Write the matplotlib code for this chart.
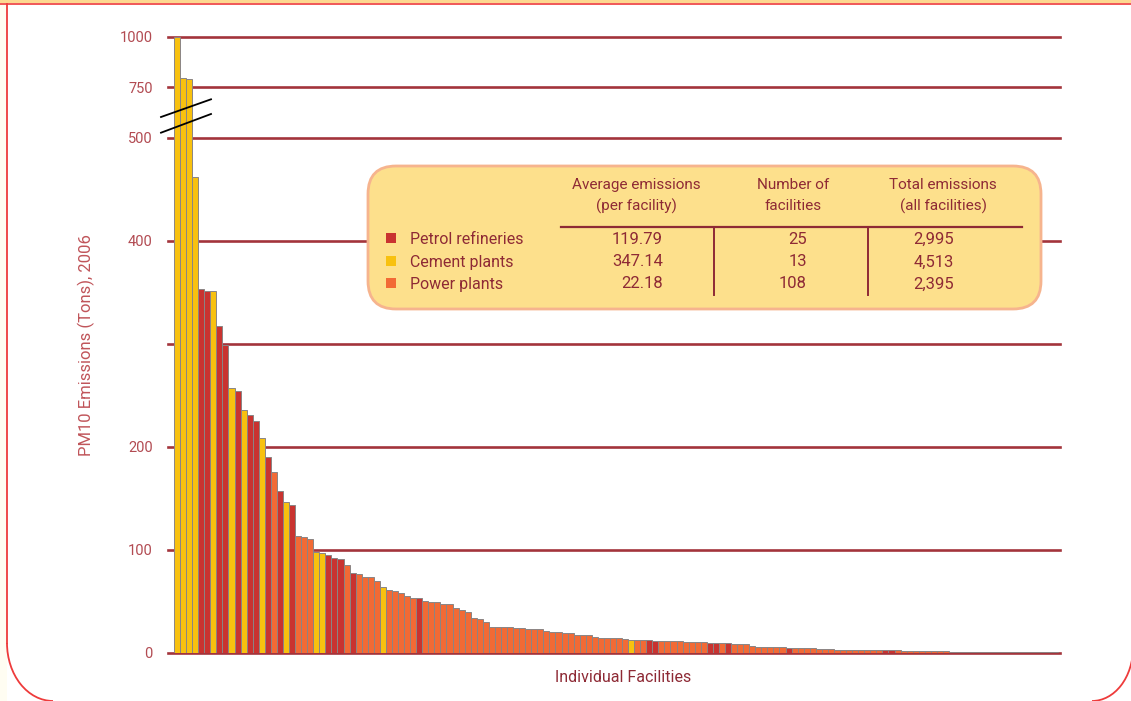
import numpy as np
import matplotlib
matplotlib.use("Agg")
import matplotlib.pyplot as plt
from matplotlib.patches import FancyBboxPatch, Rectangle, Arc
from matplotlib.lines import Line2D

plt.rcParams['font.family'] = ['Roboto', 'DejaVu Sans']

# PM10 emissions per facility (tons, 2006), sorted from largest to smallest
emissions = [
    1000, 795, 792, 462, 353, 351, 351, 317, 299, 257,
    254, 236, 231, 225, 209, 190, 176, 157, 147, 144,
    114, 113, 111, 98, 97, 95, 92, 91, 85, 78,
    77, 74, 74, 70, 64, 61, 60, 58, 55, 53.5,
    53.5, 50.5, 49.5, 49.5, 48, 48, 44, 41.7, 39.8, 33.7,
    32.7, 30, 25.6, 25, 25, 25, 24, 24, 23, 23,
    23, 21.7, 20.7, 20.7, 19.4, 19.4, 17.5, 17.5, 17.5, 15.2,
    14.2, 14.2, 14.2, 14.2, 13.5, 13, 13, 12.3, 12.3, 11.4,
    11.4, 11.4, 11.4, 11.4, 10.4, 10.4, 10.4, 10.4, 9.4, 9.4,
    9.4, 9.4, 8.4, 8.4, 8.4, 7.1, 6.1, 6.1, 6.1, 6.1,
    6.1, 5.1, 5.1, 5.1, 5.1, 5.1, 4, 4, 4, 3,
    3, 3, 3, 3, 3, 3, 3, 3, 3, 3,
    2, 2, 2, 2, 2, 2, 2, 2, 1, 1,
    1, 1, 1, 1, 1, 1, 1, 1, 1, 1,
    1, 1, 1, 1, 1, 0.8,
]

# facility type of each bar: R = petrol refinery, Y = cement plant, O = power plant
facility_type = list(
    "YYYYRRYRRY"
    "RYRRYRORYR"
    "OOOYYRRROR"
    "OOOOYOOOOO"
    "ROOOOOOOOO"
    "OOOOOOOOOO"
    "OOOOOOOOOO"
    "OOOOOYOORR"
    "OOOOOOOORR"
    "OROOOOOOOO"
    "OROOOOOOOO"
    "OOOOOOORRO"
    "OOOOOOOOOO"
    "OOOOOOOOOO"
    "OOOOOR"
)

type_colors = {"R": "#c93330", "Y": "#f8c10f", "O": "#f26a35"}

# summary table
table_headers = [("Average emissions", "(per facility)"),
                 ("Number of", "facilities"),
                 ("Total emissions", "(all facilities)")]
table_rows = ["Petrol refineries", "Cement plants", "Power plants"]
table_keys = ["R", "Y", "O"]
avg_emissions = ["119.79", "347.14", "22.18"]
n_facilities = ["25", "13", "108"]
total_emissions = ["2,995", "4,513", "2,395"]

y_ticks = [0, 100, 200, 300, 400, 500, 750, 1000]
y_ticklabels = ["0", "100", "200", "", "400", "500", "750", "1000"]

GRID = "#a3343b"
TEXT = "#8e2a35"
TICKTXT = "#b24b52"

# broken axis: linear up to 500, compressed above
K = 0.196


def fwd(v):
    v = np.asarray(v, dtype=float)
    return np.where(v <= 500, v, 500 + (v - 500) * K)


def inv(u):
    u = np.asarray(u, dtype=float)
    return np.where(u <= 500, u, 500 + (u - 500) / K)


W, H = 1131, 701
fig = plt.figure(figsize=(W / 100, H / 100), dpi=100)
fig.patch.set_facecolor("white")

ax_left, ax_right, ax_top, ax_base = 168, 1060, 37, 653
ax = fig.add_axes([ax_left / W, (H - ax_base) / H,
                   (ax_right - ax_left) / W, (ax_base - ax_top) / H])
ax.set_yscale("function", functions=(fwd, inv))
ax.set_ylim(0, 1000)

n = len(emissions)
xs = np.arange(n)
bar_px = (1058 - 174) / n
ax.set_xlim(-0.5 - (174 - ax_left) / bar_px, n - 0.5 + (ax_right - 1058) / bar_px)

for yv in y_ticks:
    ax.axhline(yv, color=GRID, lw=1.9, zorder=0.5, clip_on=False)

ax.bar(xs, emissions, width=1.0, color=[type_colors[t] for t in facility_type],
       edgecolor="#8a8585", linewidth=0.7, zorder=2)

for s in ax.spines.values():
    s.set_visible(False)
ax.set_xticks([])
ax.set_yticks(y_ticks)
ax.set_yticklabels(y_ticklabels)
ax.tick_params(axis="y", length=0, pad=11, labelsize=10.5, labelcolor=TICKTXT)
ax.set_facecolor("none")

ax.set_ylabel("PM10 Emissions (Tons), 2006", fontsize=12, color="#c0555a")
ax.yaxis.set_label_coords((95 - ax_left) / (ax_right - ax_left), 0.5)
ax.set_xlabel("Individual Facilities", fontsize=11.5, color=TEXT)
ax.xaxis.set_label_coords((623 - ax_left) / (ax_right - ax_left),
                          (ax_base - 670) / (ax_base - ax_top))

# overlay in pixel coordinates for frame, break marks and summary table
ov = fig.add_axes([0, 0, 1, 1], zorder=5)
ov.set_xlim(0, W)
ov.set_ylim(H, 0)
ov.axis("off")
ov.patch.set_alpha(0)

# page frame
ov.add_patch(Rectangle((0, 0), 7, H, facecolor="#fffdf2", edgecolor="none"))
ov.add_patch(Rectangle((0, 0), W, 3, facecolor="#fdd890", edgecolor="none"))
ov.add_line(Line2D([0, W], [3.5, 3.5], color="#ee3b3b", lw=1.2))
ov.add_line(Line2D([7, 7], [3.5, 643], color="#ee3b3b", lw=1.3))
ov.add_patch(Arc((53, 643), 92, 116, theta1=90, theta2=180, color="#ee3b3b", lw=1.3))
ov.add_patch(Arc((1092, 648), 82, 106, theta1=0, theta2=90, color="#ee3b3b", lw=1.3))

# axis break marks
ov.add_line(Line2D([161, 211], [117, 99.3], color="black", lw=1.3))
ov.add_line(Line2D([161, 211], [132.7, 114], color="black", lw=1.3))

# summary table box
ov.add_patch(FancyBboxPatch((368, 166), 673, 143,
                            boxstyle="round,pad=0,rounding_size=28",
                            facecolor="#fde08c", edgecolor="#f6b48e", lw=2))

head_x = [636, 793, 943]
for hx, (l1, l2) in zip(head_x, table_headers):
    ov.text(hx, 185, l1, ha="center", va="center", fontsize=11, color=TEXT)
    ov.text(hx, 206, l2, ha="center", va="center", fontsize=11, color=TEXT)

ov.add_line(Line2D([561, 1022], [227, 227], color=TEXT, lw=1.6))
for vx in (714, 868):
    ov.add_line(Line2D([vx, vx], [227, 295], color=TEXT, lw=1.4))

row_y = [239, 262, 284]
for ry, lab, key, a, c, t in zip(row_y, table_rows, table_keys,
                                 avg_emissions, n_facilities, total_emissions):
    ov.add_patch(Rectangle((386, ry - 6), 10, 10, facecolor=type_colors[key],
                           edgecolor="none"))
    ov.text(410, ry, lab, ha="left", va="center", fontsize=11.5, color=TEXT)
    ov.text(663, ry, a, ha="right", va="center", fontsize=12, color=TEXT)
    ov.text(807, ry, c, ha="right", va="center", fontsize=12, color=TEXT)
    ov.text(954, ry, t, ha="right", va="center", fontsize=12, color=TEXT)

fig.savefig("out.png", dpi=100)
